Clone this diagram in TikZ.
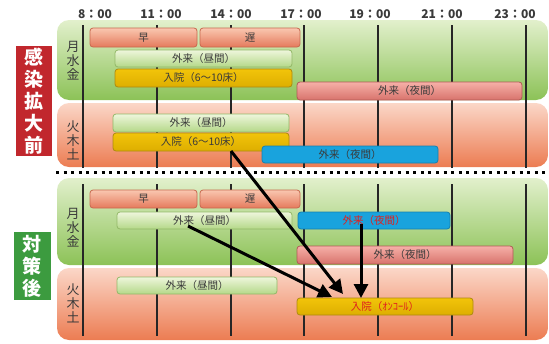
\documentclass[tikz,border=0pt]{standalone}
\usepackage{fontspec}
\setmainfont{Noto Sans CJK JP}
\usetikzlibrary{arrows.meta}
\definecolor{txt}{HTML}{3A3A3A}
\definecolor{grT}{HTML}{E2F0CC}
\definecolor{grB}{HTML}{8CC257}
\definecolor{rdT}{HTML}{FBD7C8}
\definecolor{rdB}{HTML}{EC7C52}
\definecolor{salT}{HTML}{F9C7B0}
\definecolor{salB}{HTML}{E57A5C}
\definecolor{salD}{HTML}{C8684E}
\definecolor{lgT}{HTML}{EEF6DC}
\definecolor{lgB}{HTML}{B4D888}
\definecolor{lgD}{HTML}{93B868}
\definecolor{yeT}{HTML}{F2C40A}
\definecolor{yeB}{HTML}{DDAE00}
\definecolor{yeD}{HTML}{AE8A10}
\definecolor{niT}{HTML}{F6B0A8}
\definecolor{niB}{HTML}{D8736C}
\definecolor{niD}{HTML}{B05A55}
\definecolor{blF}{HTML}{19A3DD}
\definecolor{blD}{HTML}{1580B0}
\definecolor{redbox}{HTML}{C1272D}
\definecolor{grnbox}{HTML}{3C9B3F}
\definecolor{redtxt}{HTML}{E0201E}
\begin{document}
\begin{tikzpicture}[x=1pt,y=-1pt,
  bar/.style={draw, rounded corners=3pt, line width=0.8pt, inner sep=0pt,
    font=\fontsize{10.5}{12}\selectfont, text=txt},
  salbar/.style={bar, draw=salD, top color=salT, bottom color=salB},
  lgbar/.style={bar, draw=lgD, top color=lgT, bottom color=lgB},
  yebar/.style={bar, draw=yeD, top color=yeT, bottom color=yeB},
  nibar/.style={bar, draw=niD, top color=niT, bottom color=niB},
  blbar/.style={bar, draw=blD, fill=blF},
  vline/.style={line width=1.8pt, black!85},
  tlabel/.style={font=\fontsize{12}{13}\selectfont\bfseries, text=txt},
  daylbl/.style={font=\fontsize{13}{14}\selectfont, text=txt, align=center, inner sep=0pt},
  bigbox/.style={font=\fontsize{19}{22}\selectfont\bfseries, text=white, align=center, inner sep=0pt},
  arr/.style={line width=3pt, -{Triangle[length=14pt,width=14pt]}}
]
\useasboundingbox (0,0) rectangle (549,343);
% panels
\shade[top color=grT, bottom color=grB, rounded corners=12pt] (57,20) rectangle (548,100);
\shade[top color=rdT, bottom color=rdB, rounded corners=12pt] (57,103) rectangle (548,167);
\shade[top color=grT, bottom color=grB, rounded corners=12pt] (57,178) rectangle (548,265);
\shade[top color=rdT, bottom color=rdB, rounded corners=12pt] (57,268) rectangle (548,340);
% separator
\draw[line width=3pt, dash pattern=on 3pt off 4.6pt] (56,172) -- (549,172);
% time labels
\node[tlabel] (t8) at (95,14) {8：00};
\node[tlabel] (t11) at (161,14) {11：00};
\node[tlabel] (t14) at (231,14) {14：00};
\node[tlabel] (t17) at (301,14) {17：00};
\node[tlabel] (t19) at (370,14) {19：00};
\node[tlabel] (t21) at (442,14) {21：00};
\node[tlabel] (t23) at (515,14) {23：00};
% vertical lines
\foreach \x in {83,157,231,304,378,452,526}{
  \draw[vline] (\x,25) -- (\x,168);
  \draw[vline] (\x,184) -- (\x,336);
}
% side labels
\node[bigbox, fill=redbox, minimum width=36pt, minimum height=110pt] (before) at (34,101) {感\\染\\拡\\大\\前};
\node[bigbox, fill=grnbox, minimum width=37pt, minimum height=68pt] (after) at (32.5,266) {対\\策\\後};
\node[daylbl] (d1) at (73,61) {月\\水\\金};
\node[daylbl] (d2) at (73,140) {火\\木\\土};
\node[daylbl] (d3) at (73,228) {月\\水\\金};
\node[daylbl] (d4) at (73,303) {火\\木\\土};
% top bars
\node[salbar, minimum width=107pt, minimum height=19pt] (hayaA) at (143.5,37.5) {早};
\node[salbar, minimum width=100pt, minimum height=19pt] (osoA) at (250,37.5) {遅};
\node[lgbar, minimum width=177pt, minimum height=17pt] (gdayA) at (203.5,58.5) {外来（昼間）};
\node[yebar, minimum width=177pt, minimum height=18pt] (nyuA) at (203.5,78) {入院（6〜10床）};
\node[nibar, minimum width=225pt, minimum height=18pt] (gnightA) at (409.5,91) {外来（夜間）};
\node[lgbar, minimum width=176pt, minimum height=18pt] (gdayB) at (201,123) {外来（昼間）};
\node[yebar, minimum width=176pt, minimum height=18pt] (nyuB) at (201,142) {入院（6〜10床）};
\node[blbar, minimum width=176pt, minimum height=17pt] (blueA) at (350,154.5) {外来（夜間）};
% bottom bars
\node[salbar, minimum width=107pt, minimum height=18pt] (hayaC) at (143.5,199) {早};
\node[salbar, minimum width=100pt, minimum height=18pt] (osoC) at (250,199) {遅};
\node[lgbar, minimum width=175pt, minimum height=17pt] (gdayC) at (204.5,220.5) {外来（昼間）};
\node[blbar, minimum width=152pt, minimum height=17pt, text=redtxt] (blueC) at (374,220.5) {外来（夜間）};
\node[nibar, minimum width=216pt, minimum height=18pt] (gnightC) at (405,255) {外来（夜間）};
\node[lgbar, minimum width=160pt, minimum height=17pt] (gdayD) at (197,285.5) {外来（昼間）};
\node[yebar, minimum width=176pt, minimum height=17pt, text=redtxt] (nyuD) at (385,306.5) {入院（ｵﾝｺｰﾙ）};
% arrows
\coordinate (s1) at (231,151);
\coordinate (e1) at (343,294);
\coordinate (s2) at (188,226);
\coordinate (e2) at (332,297);
\coordinate (s3) at (361,224);
\coordinate (e3) at (361,298);
\draw[arr] (s1) -- (e1);
\draw[arr] (s2) -- (e2);
\draw[arr] (s3) -- (e3);
\end{tikzpicture}
\end{document}
